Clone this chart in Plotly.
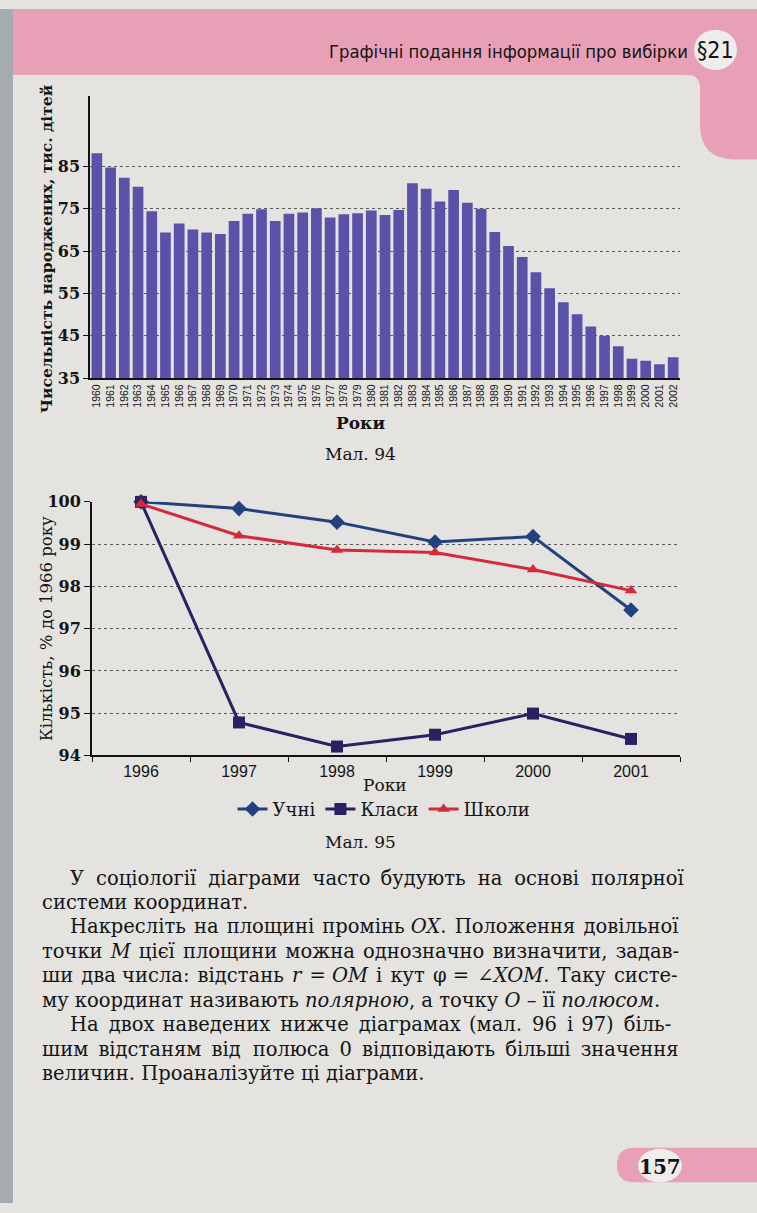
import plotly.graph_objects as go

W, H = 757, 1213

# ---- data: births (Мал. 94) ----
years = [str(y) for y in range(1960, 2003)]
births = [88.1, 84.7, 82.3, 80.2, 74.4, 69.4, 71.5, 70.1, 69.4, 69.0,
          72.1, 73.8, 74.9, 72.1, 73.8, 74.1, 75.1, 72.9, 73.7, 73.9,
          74.6, 73.5, 74.7, 81.0, 79.7, 76.7, 79.4, 76.4, 75.0, 69.5,
          66.2, 63.6, 60.0, 56.2, 52.9, 50.1, 47.2, 45.0, 42.5, 39.6,
          39.1, 38.3, 39.9]
bar_yticks = [35, 45, 55, 65, 75, 85]

# ---- data: Мал. 95 ----
line_years = ["1996", "1997", "1998", "1999", "2000", "2001"]
uchni = [100.0, 99.84, 99.52, 99.05, 99.18, 97.44]
klasy = [100.0, 94.78, 94.21, 94.49, 94.99, 94.39]
shkoly = [99.95, 99.2, 98.86, 98.80, 98.40, 97.9]
line_yticks = [94, 95, 96, 97, 98, 99, 100]

header_text = "Графічні подання інформації про вибірки"
section = "§21"
page_no = "157"
# (text, paragraph indent, extra px to spread over word gaps for justification)
body_lines = [
    ("У соціології діаграми часто будують на основі полярної", True, 39),
    ("системи координат.", False, 0),
    ("Накресліть на площині промінь <i>OX</i>. Положення довільної", True, 10),
    ("точки <i>M</i> цієї площини можна однозначно визначити, задав-", False, 14),
    ("ши два числа: відстань <i>r</i> = <i>OM</i> і кут φ = ∠<i>XOM</i>. Таку систе-", False, 19),
    ("му координат називають <i>полярною</i>, а точку <i>O</i> – її <i>полюсом</i>.", False, 0),
    ("На двох наведених нижче діаграмах (мал. 96 і 97) біль-", True, 29),
    ("шим відстаням від полюса 0 відповідають більші значення", False, 30),
    ("величин. Проаналізуйте ці діаграми.", False, 0),
]

HAIR = "\u200a"
BODY_SIZE = 19.5
HAIR_PX = 0.1 * BODY_SIZE


def justify(s, extra):
    if extra <= 0:
        return s
    words = s.split(" ")
    gaps = len(words) - 1
    per = extra / gaps
    out = words[0]
    acc = 0.0
    used = 0
    for w in words[1:]:
        acc += per
        n = int(round(acc / HAIR_PX)) - used
        used += n
        out += " " + HAIR * n + w
    return out


def X(p):
    return p / W


def Y(p):
    return 1 - p / H


def path(cmds):
    out = []
    for cmd, pts in cmds:
        if cmd == "Z":
            out.append("Z")
            continue
        coords = " ".join(f"{X(a):.5f},{Y(b):.5f}" for a, b in pts)
        out.append(f"{cmd} {coords}")
    return " ".join(out)


SERIF = "DejaVu Serif, Liberation Serif, serif"
SANS = "Liberation Sans, Arial, sans-serif"
NARROW = "Liberation Sans Narrow, DejaVu Sans Condensed, Arial Narrow, sans-serif"
INK = "#141414"
PAGE = "#e4e3e0"
PINK = "#e8a0b6"
GRID = "#5a5a5a"

fig = go.Figure()

fig.add_trace(go.Bar(
    x=years, y=births, xaxis="x", yaxis="y", showlegend=False,
    marker=dict(color="#5a51a8", line=dict(width=0)),
))

fig.add_trace(go.Scatter(
    x=line_years, y=uchni, name="Учні", mode="lines+markers",
    xaxis="x2", yaxis="y2", cliponaxis=False,
    line=dict(color="#22417f", width=3),
    marker=dict(symbol="diamond", size=12, color="#22417f"),
))
fig.add_trace(go.Scatter(
    x=line_years, y=klasy, name="Класи", mode="lines+markers",
    xaxis="x2", yaxis="y2", cliponaxis=False,
    line=dict(color="#2c1f62", width=3),
    marker=dict(symbol="square", size=12, color="#2c1f62"),
))
fig.add_trace(go.Scatter(
    x=line_years, y=shkoly, name="Школи", mode="lines+markers",
    xaxis="x2", yaxis="y2", cliponaxis=False,
    line=dict(color="#d42b3c", width=3),
    marker=dict(symbol="triangle-up", size=11, color="#d42b3c"),
))

shapes = [
    dict(type="rect", xref="paper", yref="paper", x0=0, x1=X(13), y0=0, y1=1,
         fillcolor="#a4abb1", line=dict(width=0), layer="below"),
    dict(type="path", xref="paper", yref="paper", layer="below",
         fillcolor=PINK, line=dict(width=0),
         path=path([("M", [(13, 0)]), ("L", [(757, 0)]), ("L", [(757, 153)]),
                    ("L", [(736, 153)]),
                    ("Q", [(700, 153), (700, 117)]), ("L", [(700, 80)]),
                    ("Q", [(700, 67), (687, 67)]), ("L", [(13, 67)]), ("Z", [])])),
    dict(type="circle", xref="paper", yref="paper", layer="below",
         x0=X(694), x1=X(737), y0=Y(62), y1=Y(21),
         fillcolor="#efedec", line=dict(width=0)),
    dict(type="path", xref="paper", yref="paper", layer="below",
         fillcolor=PINK, line=dict(width=0),
         path=path([("M", [(757, 1157)]), ("L", [(634, 1157)]),
                    ("Q", [(617, 1157), (617, 1175)]),
                    ("Q", [(617, 1192), (634, 1192)]), ("L", [(757, 1192)]),
                    ("Z", [])])),
    dict(type="circle", xref="paper", yref="paper", layer="below",
         x0=X(638), x1=X(682), y0=Y(1192), y1=Y(1158),
         fillcolor="#efedec", line=dict(width=0)),
]

ann = []


def text(x, y, s, size, family=SERIF, bold=False, anchor="center", angle=0, color=INK):
    ann.append(dict(
        x=X(x), y=Y(y), xref="paper", yref="paper", text=s, showarrow=False,
        xanchor=anchor, yanchor="middle", textangle=angle,
        font=dict(family=family, size=size, color=color,
                  weight="bold" if bold else "normal"),
    ))


text(690, 43, header_text, 18.3, family=NARROW, anchor="right")
text(715, 42, section, 23, family=NARROW)
text(660, 1176, page_no, 20, bold=True)

text(46, 244, "Чисельність народжених, тис. дітей", 15.5, bold=True, angle=-90)
text(360, 421, "Роки", 17, bold=True)
text(360, 452, "Мал. 94", 17)

text(46, 630, "Кількість, % до 1966 року", 16.5, angle=-90)
text(385, 788, "Роки", 17)
text(360, 846, "Мал. 95", 17)

y0 = 883
for i, (s, indent, extra) in enumerate(body_lines):
    text(68 if indent else 40, y0 + i * 24.8, justify(s, extra), BODY_SIZE, anchor="left")

fig.update_layout(
    width=W, height=H,
    margin=dict(l=0, r=0, t=0, b=0),
    paper_bgcolor=PAGE, plot_bgcolor="rgba(0,0,0,0)",
    shapes=shapes, annotations=ann,
    bargap=0.22,
    showlegend=True,
    legend=dict(orientation="h", x=X(384), xanchor="center", y=Y(813), yanchor="middle",
                bgcolor="rgba(0,0,0,0)", font=dict(family=SERIF, size=18, color=INK),
                itemwidth=30, tracegroupgap=0),
    xaxis=dict(domain=[X(90), X(680)], anchor="y", type="category",
               tickangle=-90, tickfont=dict(family=SANS, size=10.5, color=INK),
               showline=True, linecolor="#111", linewidth=2, ticks="",
               showgrid=False, zeroline=False),
    yaxis=dict(domain=[Y(375), Y(88)], anchor="x", range=[35, 101.7],
               tickvals=bar_yticks, ticktext=[str(v) for v in bar_yticks],
               tickfont=dict(family=SERIF, size=16, color=INK, weight="bold"),
               showline=True, linecolor="#111", linewidth=1.5,
               ticks="outside", ticklen=5, tickcolor="#111",
               showgrid=True, gridcolor=GRID, griddash="dot", gridwidth=1,
               zeroline=False),
    xaxis2=dict(domain=[X(92), X(680)], anchor="y2", type="category",
                range=[-0.5, 5.5], tickson="boundaries",
                ticks="outside", ticklen=5, tickcolor="#111",
                tickfont=dict(family=SANS, size=16, color=INK),
                showline=True, linecolor="#111", linewidth=2,
                showgrid=False, zeroline=False),
    yaxis2=dict(domain=[Y(758.3), Y(500.7)], anchor="x2", range=[94, 100],
                tickvals=line_yticks, ticktext=[str(v) for v in line_yticks],
                tickfont=dict(family=SERIF, size=16, color=INK, weight="bold"),
                showline=True, linecolor="#111", linewidth=2,
                ticks="outside", ticklen=6, tickcolor="#111",
                showgrid=True, gridcolor=GRID, griddash="dot", gridwidth=1,
                zeroline=False),
)

post = (
    "var st=document.createElement('style');"
    "st.textContent='html,body{margin:0!important;padding:0!important;overflow:hidden;"
    "width:757px;height:1213px;background:#e4e3e0;}';"
    "document.head.appendChild(st);"
    "var gd=document.getElementById('{plot_id}');"
    "gd.style.position='fixed';gd.style.left='0px';gd.style.top='0px';"
    "window.scrollTo(0,0);"
)
fig.write_html("out.html", config={"displayModeBar": False}, post_script=post)
